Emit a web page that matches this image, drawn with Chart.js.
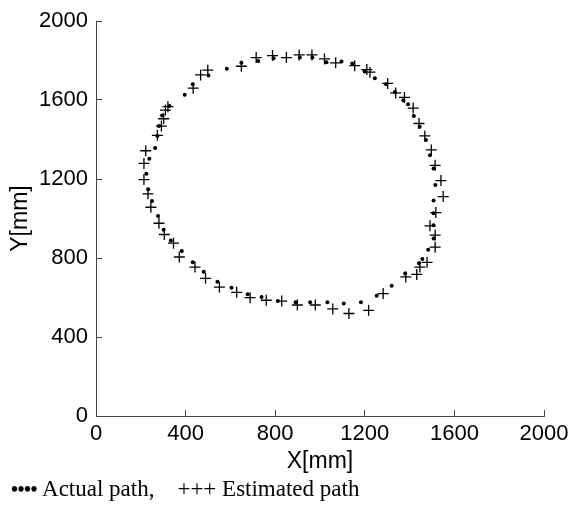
<!DOCTYPE html>
<html>
<head>
<meta charset="utf-8">
<script src="https://cdn.jsdelivr.net/npm/chart.js@4/dist/chart.umd.min.js"></script>
<style>
  body { margin: 0; background: #fff; }
  #wrap { position: relative; width: 573px; height: 511px; }
  #caption {
    position: absolute; left: 11px; top: 476px;
    font-family: "Liberation Serif", "Times New Roman", serif;
    font-size: 23px; line-height: 26px; color: #000; white-space: pre;
  }
  #caption .dots { font-size: 20px; font-weight: bold; letter-spacing: -0.5px; margin-right: 5px; }
</style>
</head>
<body>
<div id="wrap">
  <canvas id="pathChart" width="573" height="511"></canvas>
  <div id="caption"><span class="dots">••••</span>Actual path,    +++ Estimated path</div>
</div>
<script>
// 実際の経路 (Actual path)
const actualX = [584, 649, 724, 793, 910, 966, 1029, 1096, 1144, 1199, 1245, 1295, 1334, 1372, 1393, 1419, 1445, 1473, 1491, 1507,
  1515, 1507, 1507, 1507, 1507, 1483, 1457, 1442, 1380, 1320, 1253, 1183, 1106, 1033, 956, 891, 812, 739, 677, 605,
  542, 481, 432, 383, 334, 302, 277, 250, 233, 225, 238, 264, 274, 281, 295, 328, 396, 432, 502];
const actualY = [1758, 1788, 1798, 1811, 1815, 1815, 1791, 1795, 1785, 1744, 1710, 1680, 1640, 1599, 1579, 1519, 1465, 1397, 1320, 1253,
  1170, 1091, 1027, 966, 899, 842, 795, 774, 721, 660, 609, 576, 569, 576, 576, 576, 582, 603, 616, 650,
  680, 731, 778, 835, 889, 943, 1013, 1088, 1148, 1226, 1303, 1357, 1418, 1468, 1522, 1569, 1626, 1680, 1724];

// 推定経路 (Estimated path)
const estX = [467, 499, 434, 649, 715, 788, 850, 907, 964, 1020, 1070, 1155, 1209, 1223, 1302, 1338, 1377, 1416, 1442, 1468,
  1497, 1514, 1540, 1550, 1517, 1491, 1514, 1514, 1478, 1446, 1432, 1383, 1282, 1217, 1129, 1057, 979, 899, 829, 760,
  688, 628, 551, 489, 442, 372, 346, 305, 281, 245, 232, 214, 214, 222, 274, 292, 302, 310, 321];
const estY = [1727, 1751, 1660, 1771, 1815, 1825, 1815, 1828, 1828, 1808, 1788, 1774, 1754, 1741, 1684, 1636, 1613, 1559, 1481, 1418,
  1347, 1269, 1192, 1111, 1030, 963, 916, 855, 778, 754, 717, 704, 620, 535, 519, 542, 562, 562, 582, 586,
  599, 626, 653, 697, 754, 805, 875, 919, 976, 1057, 1125, 1197, 1279, 1343, 1421, 1468, 1505, 1549, 1566];

// 軸の設定
const axisMin = 0;
const axisMax = 2000;
const axisStep = 400;

function toPoints(xs, ys) {
  return xs.map((x, i) => ({ x: x, y: ys[i] }));
}

const tickFont = { family: "'Liberation Sans', Arial, sans-serif", size: 22 };
const titleFont = { family: "'Liberation Sans', Arial, sans-serif", size: 23 };

// 目盛りはカンマなしで表示
function plainTick(value) {
  return String(value);
}

const pathChartConfig = {
  type: "scatter",
  data: {
    datasets: [
      {
        label: "Actual path",
        data: toPoints(actualX, actualY),
        pointStyle: "circle",
        pointRadius: 2,
        backgroundColor: "#000",
        borderColor: "#000",
        borderWidth: 0,
      },
      {
        label: "Estimated path",
        data: toPoints(estX, estY),
        pointStyle: "cross",
        pointRadius: 5.5,
        borderColor: "#000",
        borderWidth: 1.3,
      },
    ],
  },
  options: {
    responsive: false,
    animation: false,
    events: [],
    layout: {
      padding: { left: 0, right: 29, top: 21, bottom: 36 },
    },
    plugins: {
      legend: { display: false },
      tooltip: { enabled: false },
    },
    scales: {
      x: {
        type: "linear",
        min: axisMin,
        max: axisMax,
        border: { color: "#444", width: 1 },
        grid: { drawOnChartArea: false, drawTicks: true, tickLength: -6, tickColor: "#444" },
        ticks: { stepSize: axisStep, color: "#000", font: tickFont, padding: 11, maxRotation: 0, callback: plainTick },
        title: { display: true, text: "X[mm]", color: "#000", font: titleFont, padding: 0 },
        afterFit: function (scale) {
          scale.height = 59; // X軸の高さを固定
          scale.paddingLeft = 0;
          scale.paddingRight = 0;
        },
      },
      y: {
        type: "linear",
        min: axisMin,
        max: axisMax,
        border: { color: "#444", width: 1 },
        grid: { drawOnChartArea: false, drawTicks: true, tickLength: -6, tickColor: "#444" },
        ticks: { stepSize: axisStep, color: "#000", font: tickFont, padding: 14, callback: plainTick },
        title: { display: true, text: "Y[mm]", color: "#000", font: titleFont, padding: 7 },
        afterFit: function (scale) {
          scale.width = 96; // Y軸の幅を固定
          scale.paddingTop = 0;
          scale.paddingBottom = 0;
        },
      },
    },
  },
};

const pathChart = new Chart(document.getElementById("pathChart"), pathChartConfig);
</script>
</body>
</html>
